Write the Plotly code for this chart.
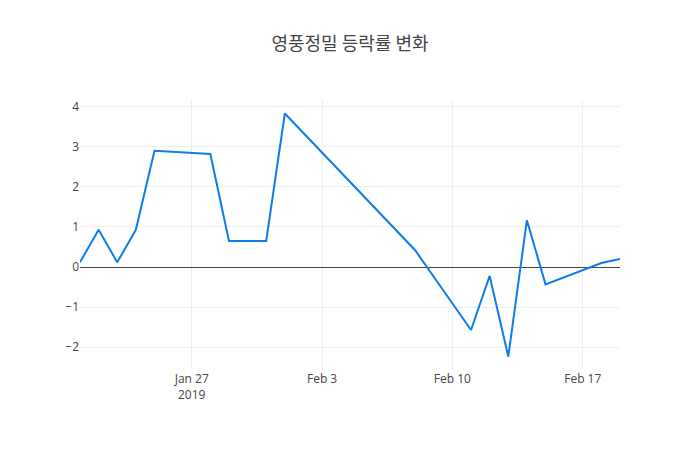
import plotly.graph_objects as go

dates = ["2019-01-21", "2019-01-22", "2019-01-23", "2019-01-24", "2019-01-25",
         "2019-01-28", "2019-01-29", "2019-01-30", "2019-01-31", "2019-02-01",
         "2019-02-08", "2019-02-11", "2019-02-12", "2019-02-13", "2019-02-14",
         "2019-02-15", "2019-02-18", "2019-02-19"]
rates = [0.12, 0.93, 0.12, 0.93, 2.90,
         2.82, 0.65, 0.65, 0.65, 3.83,
         0.42, -1.57, -0.22, -2.23, 1.17,
         -0.43, 0.10, 0.20]

fig = go.Figure(go.Scatter(x=dates, y=rates, mode="lines",
                           line=dict(color="#0f7ceb", width=2)))
fig.update_layout(
    title=dict(text="영풍정밀 등락률 변화", x=342 / 692, xanchor="center",
               y=1 - 36 / 442, yanchor="middle",
               font=dict(family="Noto Sans CJK KR", size=18, color="#444")),
    width=692, height=442,
    margin=dict(l=72, r=80, t=92, b=80),
    paper_bgcolor="white", plot_bgcolor="white",
    font=dict(family="Open Sans", size=12, color="#444"),
    showlegend=False,
    xaxis=dict(gridcolor="#eee", showline=False, zeroline=False,
               tickvals=["2019-01-27", "2019-02-03", "2019-02-10", "2019-02-17"],
               ticktext=["Jan 27<br>2019", "Feb 3", "Feb 10", "Feb 17"]),
    yaxis=dict(gridcolor="#eee", zeroline=True, zerolinecolor="#444",
               zerolinewidth=1, showline=False, dtick=1),
)
fig.write_html("out.html")
